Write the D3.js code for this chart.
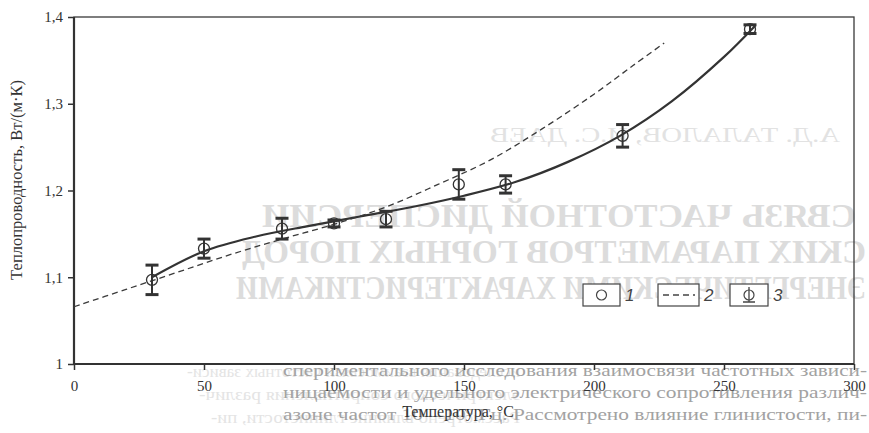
<!DOCTYPE html>
<html>
<head>
<meta charset="utf-8">
<script src="https://cdn.jsdelivr.net/npm/d3@7"></script>
<style>
  body { margin: 0; background: #fff; }
  svg { display: block; }
  .tick line { stroke: #333; stroke-width: 1.5; }
  .domain { display: none; }
</style>
</head>
<body>
<div id="chart"></div>
<script>
// measured points (curve 1 + error bars 3)
var pointT   = [30, 50, 80, 100, 120, 148, 166, 211, 260];
var pointK   = [1.097, 1.133, 1.156, 1.162, 1.167, 1.207, 1.207, 1.263, 1.386];
var pointErr = [0.017, 0.011, 0.012, 0.004, 0.009, 0.017, 0.010, 0.013, 0.005];

// solid fitted curve
var solidT = [30, 50, 70, 90, 110, 130, 150, 170, 190, 210, 230, 250, 262];
var solidK = [1.100, 1.130, 1.147, 1.159, 1.170, 1.181, 1.194, 1.210, 1.233, 1.263, 1.303, 1.354, 1.390];

// dashed curve 2
var dashT = [0, 20, 40, 60, 80, 100, 120, 140, 160, 180, 200, 215, 227];
var dashK = [1.066, 1.086, 1.106, 1.126, 1.144, 1.161, 1.181, 1.207, 1.235, 1.271, 1.311, 1.344, 1.370];

var xTicks = [0, 50, 100, 150, 200, 250, 300];
var yTicks = [1, 1.1, 1.2, 1.3, 1.4];
var legendLabels = ["1", "2", "3"];

var xTitle = "Температура, °С";
var yTitle = "Теплопроводность, Вт/(м·К)";

// text of the page around the figure
var pageLines = [
  "спериментального исследования взаимосвязи частотных зависи-",
  "ницаемости и удельного электрического сопротивления различ-",
  "азоне частот 10—10⁹ Гц. Рассмотрено влияние глинистости, пи-"
];
// text showing through from the back of the sheet (mirrored)
var ghostAuthors = "А.Д. ТАЛАЛОВ, И.С. ДАЕВ";
var ghostTitle = [
  "СВЯЗЬ ЧАСТОТНОЙ ДИСПЕРСИИ",
  "СКИХ ПАРАМЕТРОВ ГОРНЫХ ПОРОД",
  "ЭНЕРГЕТИЧЕСКИМИ ХАРАКТЕРИСТИКАМИ"
];
var ghostBottom = [
  "исследования взаимосвязи частотных зависи-",
  "электрического сопротивления различ-",
  "Рассмотрено влияние глинистости, пи-"
];

var serif = "'Liberation Serif', 'Times New Roman', serif";
var width = 869, height = 433;
var svg = d3.select("#chart").append("svg")
    .attr("width", width)
    .attr("height", height);

var x = d3.scaleLinear().domain([0, 300]).range([74, 854]);
var y = d3.scaleLinear().domain([1, 1.4]).range([364, 17]);

// ghost text (mirrored, light)
function mirrored(str, x0, x1, base, size, weight, color) {
  svg.append("g")
      .attr("transform", "translate(" + (x0 + x1) + ",0) scale(-1,1)")
    .append("text")
      .attr("x", x0)
      .attr("y", base)
      .attr("textLength", x1 - x0)
      .attr("lengthAdjust", "spacingAndGlyphs")
      .style("font-family", serif)
      .style("font-size", size + "px")
      .style("font-weight", weight)
      .style("fill", color)
      .text(str);
}
mirrored(ghostAuthors, 490, 840, 142, 21, "normal", "#e2e2e2");
mirrored(ghostTitle[0], 262, 856, 227, 33, "bold", "#dcdcdc");
mirrored(ghostTitle[1], 242, 866, 263, 33, "bold", "#dcdcdc");
mirrored(ghostTitle[2], 236, 866, 299, 33, "bold", "#dcdcdc");
ghostBottom.forEach(function(s, i) {
  mirrored(s, 187 + i * 12, 520, 377 + i * 23, 16, "normal", "#e4e4e4");
});

// page text under the figure
svg.selectAll(".page-line")
    .data(pageLines)
  .enter().append("text")
    .attr("class", "page-line")
    .attr("x", 283)
    .attr("y", function(d, i) { return 376 + i * 22; })
    .attr("textLength", 584)
    .attr("lengthAdjust", "spacingAndGlyphs")
    .style("font-family", serif)
    .style("font-size", "16.5px")
    .style("fill", "#a2a2a2")
    .text(function(d) { return d; });

// frame
svg.append("rect")
    .attr("x", x(0)).attr("y", y(1.4))
    .attr("width", x(300) - x(0)).attr("height", y(1) - y(1.4))
    .attr("fill", "none").attr("stroke", "#3a3a3a").attr("stroke-width", 1.3);
svg.append("line")
    .attr("x1", x(0)).attr("x2", x(0)).attr("y1", y(1.4)).attr("y2", y(1))
    .attr("stroke", "#333").attr("stroke-width", 2.2);
svg.append("line")
    .attr("x1", x(0)).attr("x2", x(300)).attr("y1", y(1)).attr("y2", y(1))
    .attr("stroke", "#333").attr("stroke-width", 2.2);

// axes
var fmt = function(d) { return d === 1 ? "1" : d3.format(".1f")(d).replace(".", ","); };
var yAxis = svg.append("g")
    .attr("transform", "translate(" + x(0) + ",0)")
    .call(d3.axisLeft(y).tickValues(yTicks).tickSize(6).tickPadding(5).tickFormat(fmt));
var xAxis = svg.append("g")
    .attr("transform", "translate(0," + y(1) + ")")
    .call(d3.axisBottom(x).tickValues(xTicks).tickSize(6).tickPadding(10));
[yAxis, xAxis].forEach(function(a) {
  a.attr("font-family", null);
  a.selectAll("text")
      .style("font-family", serif)
      .style("font-size", "15px")
      .style("fill", "#333");
});

svg.append("text")
    .attr("x", 458).attr("y", 417)
    .attr("text-anchor", "middle")
    .style("font-family", serif)
    .style("font-size", "16px").style("fill", "#333")
    .text(xTitle);
svg.append("text")
    .attr("transform", "translate(22,180) rotate(-90)")
    .attr("text-anchor", "middle")
    .style("font-family", serif)
    .style("font-size", "16.5px").style("fill", "#333")
    .text(yTitle);

// curves
var solidLine = d3.line()
    .x(function(d, i) { return x(solidT[i]); })
    .y(function(d) { return y(d); })
    .curve(d3.curveCatmullRom);
svg.append("path")
    .attr("d", solidLine(solidK))
    .attr("fill", "none").attr("stroke", "#333").attr("stroke-width", 2.2);

var dashLine = d3.line()
    .x(function(d, i) { return x(dashT[i]); })
    .y(function(d) { return y(d); })
    .curve(d3.curveCatmullRom);
svg.append("path")
    .attr("d", dashLine(dashK))
    .attr("fill", "none").attr("stroke", "#3a3a3a").attr("stroke-width", 1.3)
    .attr("stroke-dasharray", "6,4");

// error bars and points
var pts = svg.selectAll(".pt")
    .data(pointK)
  .enter().append("g")
    .attr("class", "pt");
pts.append("line")
    .attr("x1", function(d, i) { return x(pointT[i]); })
    .attr("x2", function(d, i) { return x(pointT[i]); })
    .attr("y1", function(d, i) { return y(d + pointErr[i]); })
    .attr("y2", function(d, i) { return y(d - pointErr[i]); })
    .attr("stroke", "#333").attr("stroke-width", 2);
[1, -1].forEach(function(s) {
  pts.append("line")
      .attr("x1", function(d, i) { return x(pointT[i]) - 6.5; })
      .attr("x2", function(d, i) { return x(pointT[i]) + 6.5; })
      .attr("y1", function(d, i) { return y(d + s * pointErr[i]); })
      .attr("y2", function(d, i) { return y(d + s * pointErr[i]); })
      .attr("stroke", "#333").attr("stroke-width", 3);
});
pts.append("circle")
    .attr("cx", function(d, i) { return x(pointT[i]); })
    .attr("cy", function(d) { return y(d); })
    .attr("r", 5.5)
    .attr("fill", "none").attr("stroke", "#333").attr("stroke-width", 1.3);

// legend
var legBoxes = [[583, 620], [658, 699], [730, 768]];
var legTop = 284, legH = 22, legMid = legTop + legH / 2;
var leg = svg.selectAll(".leg")
    .data(legendLabels)
  .enter().append("g")
    .attr("class", "leg");
leg.append("rect")
    .attr("x", function(d, i) { return legBoxes[i][0]; })
    .attr("y", legTop)
    .attr("width", function(d, i) { return legBoxes[i][1] - legBoxes[i][0]; })
    .attr("height", legH)
    .attr("fill", "#fff").attr("stroke", "#444").attr("stroke-width", 1.2);
leg.append("text")
    .attr("x", function(d, i) { return legBoxes[i][1] + 5; })
    .attr("y", legMid + 6)
    .style("font-family", "'Liberation Sans', Arial, sans-serif")
    .style("font-style", "italic")
    .style("font-size", "17px").style("fill", "#444")
    .text(function(d) { return d; });

var c1 = (legBoxes[0][0] + legBoxes[0][1]) / 2;
svg.append("circle").attr("cx", c1).attr("cy", legMid).attr("r", 5)
    .attr("fill", "none").attr("stroke", "#444").attr("stroke-width", 1.2);
svg.append("line")
    .attr("x1", legBoxes[1][0] + 5).attr("x2", legBoxes[1][1] - 4)
    .attr("y1", legMid).attr("y2", legMid)
    .attr("stroke", "#444").attr("stroke-width", 1.3).attr("stroke-dasharray", "6,4");
var c3 = (legBoxes[2][0] + legBoxes[2][1]) / 2;
svg.append("circle").attr("cx", c3).attr("cy", legMid).attr("r", 5)
    .attr("fill", "none").attr("stroke", "#444").attr("stroke-width", 1.2);
svg.append("line").attr("x1", c3).attr("x2", c3).attr("y1", legTop + 3).attr("y2", legTop + legH - 4)
    .attr("stroke", "#444").attr("stroke-width", 1.3);
svg.append("line").attr("x1", c3 - 6).attr("x2", c3 + 6).attr("y1", legTop + legH - 4).attr("y2", legTop + legH - 4)
    .attr("stroke", "#444").attr("stroke-width", 1.5);
</script>
</body>
</html>
